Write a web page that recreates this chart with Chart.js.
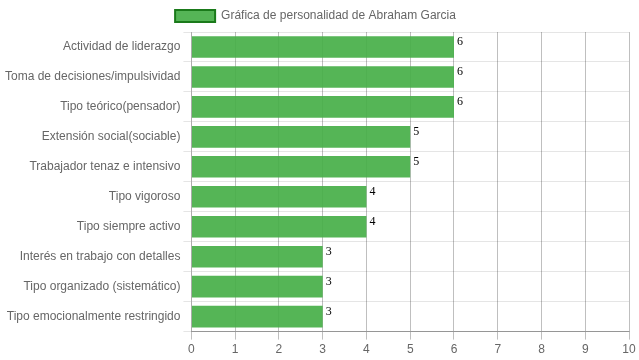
<!DOCTYPE html>
<html>
<head>
<meta charset="utf-8">
<script src="https://cdn.jsdelivr.net/npm/chart.js@4"></script>
<style>
html,body{margin:0;padding:0;background:#fff;}
#wrap{width:639px;height:360px;}
</style>
</head>
<body>
<div id="wrap"><canvas id="c" width="639" height="360"></canvas></div>
<script>
const categories = [
  "Actividad de liderazgo",
  "Toma de decisiones/impulsividad",
  "Tipo teórico(pensador)",
  "Extensión social(sociable)",
  "Trabajador tenaz e intensivo",
  "Tipo vigoroso",
  "Tipo siempre activo",
  "Interés en trabajo con detalles",
  "Tipo organizado (sistemático)",
  "Tipo emocionalmente restringido"
];
const seriesName = "Gráfica de personalidad de Abraham Garcia";
const values = [6, 6, 6, 5, 5, 4, 4, 3, 3, 3];
const xTicks = [0,1,2,3,4,5,6,7,8,9,10];

const valueLabels = {
  id: 'valueLabels',
  afterDatasetsDraw(chart) {
    const ctx = chart.ctx;
    const meta = chart.getDatasetMeta(0);
    ctx.save();
    ctx.font = '12px "Liberation Serif", "Times New Roman", serif';
    ctx.fillStyle = '#000';
    ctx.textAlign = 'left';
    ctx.textBaseline = 'top';
    meta.data.forEach((el, i) => {
      ctx.fillText(String(values[i]), el.x + 3, el.y - el.height / 2);
    });
    ctx.restore();
  }
};

Chart.defaults.font.family = '"Liberation Sans", Arial, sans-serif';
Chart.defaults.font.size = 12;
Chart.defaults.color = '#666';

const barFill = 'rgba(70,175,72,0.92)';

new Chart(document.getElementById('c'), {
  type: 'bar',
  data: {
    labels: categories,
    datasets: [{
      label: seriesName,
      data: values,
      backgroundColor: barFill,
      borderColor: '#1a7a1a',
      borderWidth: 0
    }]
  },
  options: {
    indexAxis: 'y',
    responsive: false,
    animation: false,
    layout: { padding: { left: 2, right: 10 } },
    plugins: {
      legend: {
        labels: {
          boxWidth: 40,
          generateLabels(chart) {
            return [{
              text: seriesName,
              fillStyle: barFill,
              strokeStyle: '#1a7a1a',
              lineWidth: 2,
              hidden: false,
              datasetIndex: 0,
              fontColor: '#666'
            }];
          }
        }
      },
      tooltip: { enabled: false }
    },
    scales: {
      x: {
        min: 0, max: 10,
        ticks: { stepSize: 1, callback: (v) => xTicks.includes(v) ? String(v) : '' },
        grid: { color: 'rgba(0,0,0,0.25)' },
        border: { color: 'rgba(0,0,0,0.35)' }
      },
      y: {
        grid: { color: 'rgba(0,0,0,0.1)' },
        border: { color: 'rgba(0,0,0,0.1)' }
      }
    }
  },
  plugins: [valueLabels]
});
</script>
</body>
</html>
